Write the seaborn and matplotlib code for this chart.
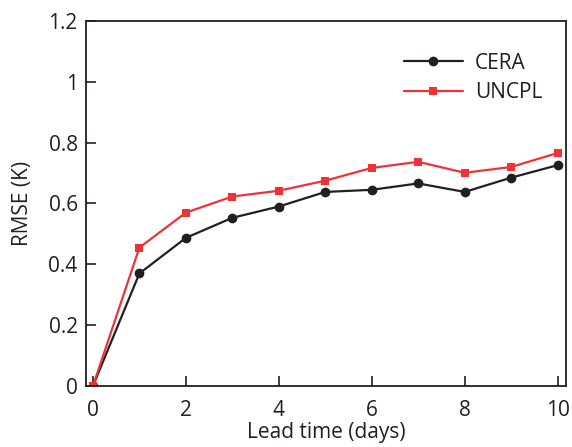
import matplotlib
matplotlib.use("Agg")
import matplotlib.pyplot as plt
import seaborn as sns
import pandas as pd

lead_days = [0, 1, 2, 3, 4, 5, 6, 7, 8, 9, 10]
cera_rmse = [0.0, 0.37, 0.487, 0.553, 0.59, 0.638, 0.645, 0.666, 0.638, 0.685, 0.726]
uncpl_rmse = [0.0, 0.455, 0.57, 0.623, 0.642, 0.675, 0.717, 0.737, 0.701, 0.72, 0.766]
x_ticks = [0, 2, 4, 6, 8, 10]
y_ticks = [0, 0.2, 0.4, 0.6, 0.8, 1.0, 1.2]
y_tick_labels = ["0", "0.2", "0.4", "0.6", "0.8", "1", "1.2"]

sns.set_theme(style="white")
plt.rcParams["font.family"] = ["Open Sans", "DejaVu Sans"]

fig = plt.figure(figsize=(5.72, 4.47), dpi=100)
ax = fig.add_axes([0.1503, 0.1365, 0.8392, 0.8165])

black = "#231f20"
red = "#ee3338"

df = pd.DataFrame({"day": lead_days, "CERA": cera_rmse, "UNCPL": uncpl_rmse})
sns.lineplot(data=df, x="day", y="CERA", ax=ax, color=black, marker="o",
             markersize=7, markeredgewidth=0, linewidth=1.6, label="CERA")
sns.lineplot(data=df, x="day", y="UNCPL", ax=ax, color=red, marker="s",
             markersize=6.3, markeredgewidth=0, linewidth=1.6, label="UNCPL")

ax.set_xlim(-0.15, 10.18)
ax.set_ylim(0, 1.2)
ax.set_xticks(x_ticks)
ax.set_xticklabels([str(t) for t in x_ticks])
ax.set_yticks(y_ticks)
ax.set_yticklabels(y_tick_labels)
ax.tick_params(axis="both", direction="in", length=7, width=1.2, colors=black,
               labelsize=15, labelcolor=black, left=True, bottom=True)
ax.tick_params(axis="x", pad=10)
ax.tick_params(axis="y", pad=6)
for s in ax.spines.values():
    s.set_color(black)
    s.set_linewidth(1.3)

ax.set_xlabel("Lead time (days)", fontsize=15, color=black, labelpad=1)
ax.set_ylabel("RMSE (K)", fontsize=15, color=black, labelpad=11)

leg = ax.legend(loc="upper right", frameon=False, fontsize=15,
                bbox_to_anchor=(0.99, 0.965), handlelength=2.8, handletextpad=0.6,
                labelspacing=0.4)
for t in leg.get_texts():
    t.set_color(black)

fig.savefig("out.png", dpi=100)
